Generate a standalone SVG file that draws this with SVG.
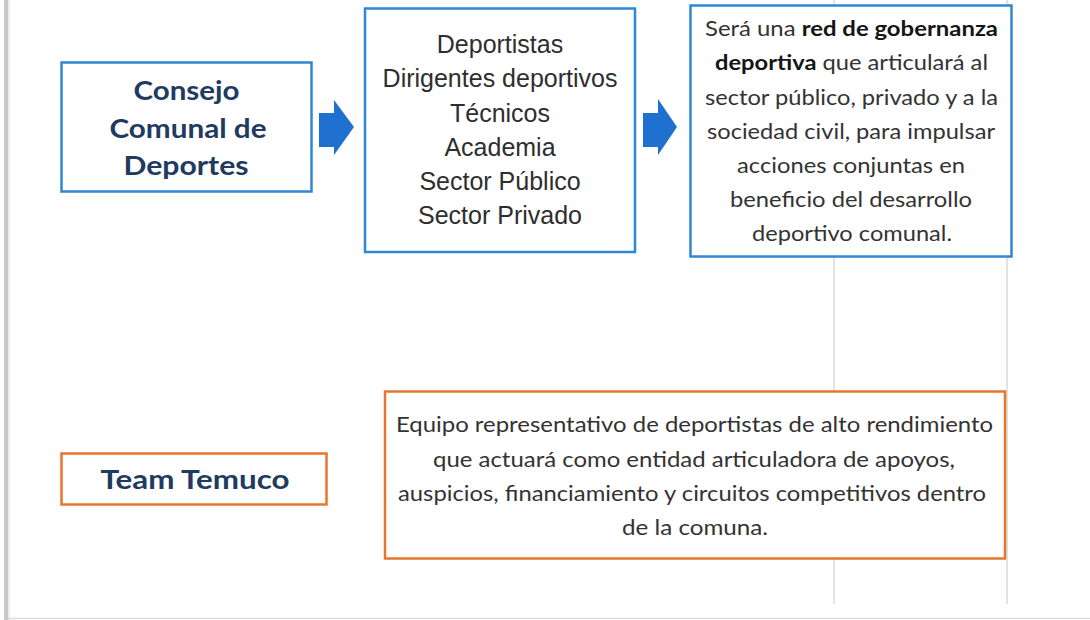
<svg xmlns="http://www.w3.org/2000/svg" width="1090" height="620" viewBox="0 0 1090 620">
<style>
.bluebox{fill:#ffffff;stroke:#2f86d4;stroke-width:2.5}
.orangebox{fill:#ffffff;stroke:#e8752c;stroke-width:2.5}
.title{font-family:Lato,"Liberation Sans",sans-serif;font-weight:bold;fill:#203a60;text-anchor:middle}
.list{font-family:"Liberation Sans",Arial,sans-serif;font-size:25px;fill:#2e2e2e;text-anchor:middle}
.body{font-family:Lato,"Liberation Sans",sans-serif;font-size:21px;fill:#333333;text-anchor:middle}
.b{font-weight:bold;fill:#151515}
.arrow{fill:#2070cf}
.guide{stroke:#d9d9d9;stroke-width:1.5;fill:none}
</style>
<rect x="0" y="0" width="1090" height="620" fill="#ffffff"/>
<g id="page">
  <rect x="4" y="0" width="4" height="620" fill="#c9c9c9"/>
  <rect x="8" y="0" width="2" height="620" fill="#ececec"/>
  <line x1="8" y1="618.5" x2="1090" y2="618.5" stroke="#dcdcdc" stroke-width="1.5"/>
  <line class="guide" x1="834" y1="0" x2="834" y2="604"/>
  <line class="guide" x1="1007" y1="0" x2="1007" y2="604"/>
</g>
<g id="connectors">
  <path class="arrow" d="M319,113 L334,113 L334,100 L354,127 L334,155 L334,147 L319,147 Z"/>
  <path class="arrow" d="M643,113 L658,113 L658,99 L677,127 L658,155 L658,147 L643,147 Z"/>
</g>
<g id="consejo">
  <rect class="bluebox" x="61.5" y="62.5" width="250" height="129"/>
  <text class="title" font-size="27" x="186.5" y="100" textLength="106" lengthAdjust="spacingAndGlyphs">Consejo</text>
  <text class="title" font-size="27" x="188" y="138" textLength="157" lengthAdjust="spacingAndGlyphs">Comunal de</text>
  <text class="title" font-size="27" x="186" y="175" textLength="125" lengthAdjust="spacingAndGlyphs">Deportes</text>
</g>
<g id="actores">
  <rect class="bluebox" x="365" y="8.5" width="270" height="243.5"/>
  <text class="list" x="500" y="53">Deportistas</text>
  <text class="list" x="500" y="87">Dirigentes deportivos</text>
  <text class="list" x="500" y="122">Técnicos</text>
  <text class="list" x="500" y="156">Academia</text>
  <text class="list" x="500" y="190">Sector Público</text>
  <text class="list" x="500" y="224">Sector Privado</text>
</g>
<g id="red">
  <rect class="bluebox" x="690.5" y="5.5" width="321" height="251"/>
  <text class="body" x="851.5" y="36" textLength="293" lengthAdjust="spacingAndGlyphs">Será una <tspan class="b">red de gobernanza</tspan></text>
  <text class="body" x="851.5" y="70" textLength="273" lengthAdjust="spacingAndGlyphs"><tspan class="b">deportiva</tspan> que articulará al</text>
  <text class="body" x="851.5" y="105" textLength="293" lengthAdjust="spacingAndGlyphs">sector público, privado y a la</text>
  <text class="body" x="851" y="139" textLength="288" lengthAdjust="spacingAndGlyphs">sociedad civil, para impulsar</text>
  <text class="body" x="851" y="173" textLength="228" lengthAdjust="spacingAndGlyphs">acciones conjuntas en</text>
  <text class="body" x="851" y="207" textLength="242" lengthAdjust="spacingAndGlyphs">beneficio del desarrollo</text>
  <text class="body" x="852" y="241" textLength="200" lengthAdjust="spacingAndGlyphs">deportivo comunal.</text>
</g>
<g id="team">
  <rect class="orangebox" x="61.5" y="453.5" width="265" height="51"/>
  <text class="title" font-size="27" x="195" y="489" textLength="189" lengthAdjust="spacingAndGlyphs">Team Temuco</text>
</g>
<g id="equipo">
  <rect class="orangebox" x="385" y="391.5" width="620" height="167"/>
  <text class="body" x="694.5" y="432" textLength="597" lengthAdjust="spacingAndGlyphs">Equipo representativo de deportistas de alto rendimiento</text>
  <text class="body" x="694" y="467" textLength="522" lengthAdjust="spacingAndGlyphs">que actuará como entidad articuladora de apoyos,</text>
  <text class="body" x="692" y="501" textLength="588" lengthAdjust="spacingAndGlyphs">auspicios, financiamiento y circuitos competitivos dentro</text>
  <text class="body" x="695" y="535" textLength="146" lengthAdjust="spacingAndGlyphs">de la comuna.</text>
</g>
</svg>
